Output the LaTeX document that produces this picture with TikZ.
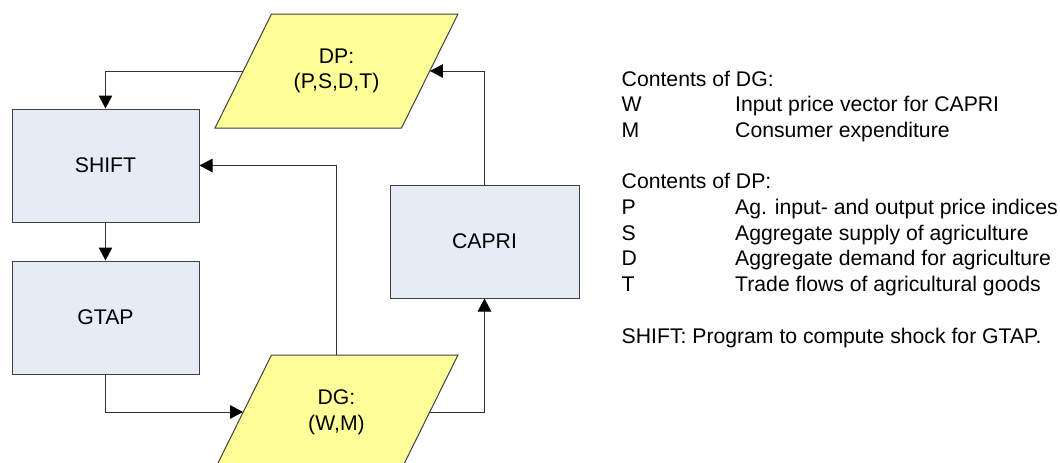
\documentclass[tikz,border=0pt]{standalone}
\usepackage{fontspec}
\setmainfont{Liberation Sans}
\usetikzlibrary{arrows.meta}
\definecolor{boxblue}{RGB}{230,236,246}
\definecolor{paryel}{RGB}{255,255,153}
\definecolor{edgegray}{RGB}{64,64,64}
\definecolor{linegray}{RGB}{50,50,50}
\begin{document}
\begin{tikzpicture}[x=1pt,y=-1pt,
  font=\fontsize{21.2}{25.7}\selectfont,
  procbox/.style={draw=edgegray, fill=boxblue, line width=1pt, minimum width=187pt, minimum height=113pt, inner sep=0pt, align=center},
  datatext/.style={minimum width=186.5pt, minimum height=114pt, inner sep=0pt, align=center},
  para/.style={draw=edgegray, fill=paryel, line width=1pt},
  conn/.style={draw=linegray, line width=1pt, -{Triangle[length=13pt,width=13.5pt,color=black]}},
  leg/.style={anchor=base west, inner sep=0pt}]
\useasboundingbox (0,0) rectangle (1060,463);
\clip (0,0) rectangle (1060,463);
% centres of the data parallelograms
\coordinate (dpc) at (336.5,71);
\coordinate (dgc) at (336.5,412);
\path[para] ([shift={(-65,-57)}]dpc) -- ([shift={(121.5,-57)}]dpc) -- ([shift={(65,57)}]dpc) -- ([shift={(-121.5,57)}]dpc) -- cycle;
\path[para] ([shift={(-65,-57)}]dgc) -- ([shift={(121.5,-57)}]dgc) -- ([shift={(65,57)}]dgc) -- ([shift={(-121.5,57)}]dgc) -- cycle;
\node[datatext] (DP) at (dpc) {DP:\\(P,S,D,T)};
\node[datatext] (DG) at (dgc) {DG:\\(W,M)};
% process boxes
\node[procbox] (SHIFT) at (105.5,165.5) {SHIFT};
\node[procbox] (GTAP) at (105.5,317.5) {GTAP};
\node[procbox, minimum width=189pt] (CAPRI) at (484.5,241.5) {CAPRI};
% connectors
\draw[conn] (DP.west) -| (SHIFT.north);
\draw[conn] (CAPRI.north) |- (DP.east);
\draw[conn] (DG.north) |- (SHIFT.east);
\draw[conn] (SHIFT.south) -- (GTAP.north);
\draw[conn] (GTAP.south) |- (DG.west);
\draw[conn] (DG.east) -| (CAPRI.south);
% legend
\node[leg] (hdg) at (621.5,86) {Contents of DG:};
\node[leg] (kw) at (621.5,111.7) {W};
\node[leg] (dw) at (735,111.7) {Input price vector for CAPRI};
\node[leg] (km) at (621.5,137.4) {M};
\node[leg] (dm) at (735,137.4) {Consumer expenditure};
\node[leg] (hdp) at (621.5,188.8) {Contents of DP:};
\node[leg] (kp) at (621.5,214.5) {P};
\node[leg] (dp) at (735,214.5) {Ag. input- and output price indices};
\node[leg] (ks) at (621.5,240.2) {S};
\node[leg] (ds) at (735,240.2) {Aggregate supply of agriculture};
\node[leg] (kd) at (621.5,265.9) {D};
\node[leg] (dd) at (735,265.9) {Aggregate demand for agriculture};
\node[leg] (kt) at (621.5,291.6) {T};
\node[leg] (dt) at (735,291.6) {Trade flows of agricultural goods};
\node[leg] (shnote) at (621.5,343) {SHIFT: Program to compute shock for GTAP.};
\end{tikzpicture}
\end{document}
